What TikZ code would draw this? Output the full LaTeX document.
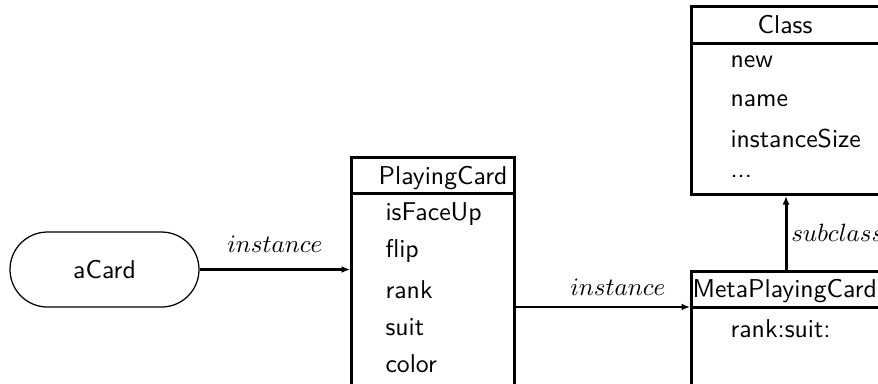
\documentclass[tikz,border=0pt]{standalone}
\usetikzlibrary{arrows.meta}
\begin{document}
\begin{tikzpicture}[x=0.4pt,y=-0.4pt,
  box/.style={draw,line width=1.2pt,inner sep=0pt,anchor=north west},
  item/.style={anchor=base west,inner sep=0pt,font=\fontsize{10.3}{12}\sffamily},
  title/.style={anchor=base,inner sep=0pt,font=\fontsize{10.3}{12}\sffamily},
  lab/.style={inner sep=0pt,anchor=base},
  arr/.style={-{Latex[length=3.4pt,width=2.8pt]}},
  ]
\useasboundingbox (0,0) rectangle (878,383);
\clip (0,0) rectangle (878,383);
% aCard
\node[draw,line width=0.5pt,rounded corners=15pt,minimum width=75.6pt,minimum height=30pt,inner sep=0pt,font=\fontsize{10.3}{12}\sffamily] (acard) at (104.5,269.5) {aCard};
% PlayingCard
\node[box,minimum width=65.2pt,minimum height=105.6pt] (pc) at (350,156) {};
\coordinate (pch) at (350,193);
\draw[line width=1.2pt] (pch) -- (pch -| pc.east);
\node[title] (pct) at (443,184) {PlayingCard};
\node[item] (pc1) at (385,220) {isFaceUp};
\node[item] (pc2) at (385,257) {flip};
\node[item] (pc3) at (385,298) {rank};
\node[item] (pc4) at (385,335) {suit};
\node[item] (pc5) at (385,372) {color};
% Class
\node[box,minimum width=77.6pt,minimum height=75.2pt] (cl) at (690,5) {};
\coordinate (clh) at (690,43);
\draw[line width=1.2pt] (clh) -- (clh -| cl.east);
\node[title] (clt) at (785,33) {Class};
\node[item] (cl1) at (730,67) {new};
\node[item] (cl2) at (730,106) {name};
\node[item] (cl3) at (730,147) {instanceSize};
\node[item] (cl4) at (730,177) {...};
% MetaPlayingCard
\node[box,minimum width=77.6pt,minimum height=60pt] (mpc) at (690,270) {};
\coordinate (mph) at (690,307);
\draw[line width=1.2pt] (mph) -- (mph -| mpc.east);
\node[item] (mpt) at (692,297) {MetaPlayingCard};
\node[item] (mp1) at (730,337) {rank:suit:};
% connectors
\draw[arr,line width=1.2pt] (acard.east) -- node[lab,above=7pt,anchor=base] {$instance$} (acard.east -| pc.west);
\coordinate (a2s) at (pc.east |- mph);
\draw[arr,line width=0.8pt] (a2s) -- node[lab,pos=0.585,yshift=4.8pt,anchor=base] {$instance$} (mph);
\coordinate (sbs) at (786,270);
\draw[arr,line width=1.2pt] (sbs) -- node[right=1.5pt,inner sep=0pt] {$subclass$} (sbs |- cl.south);
\end{tikzpicture}
\end{document}
